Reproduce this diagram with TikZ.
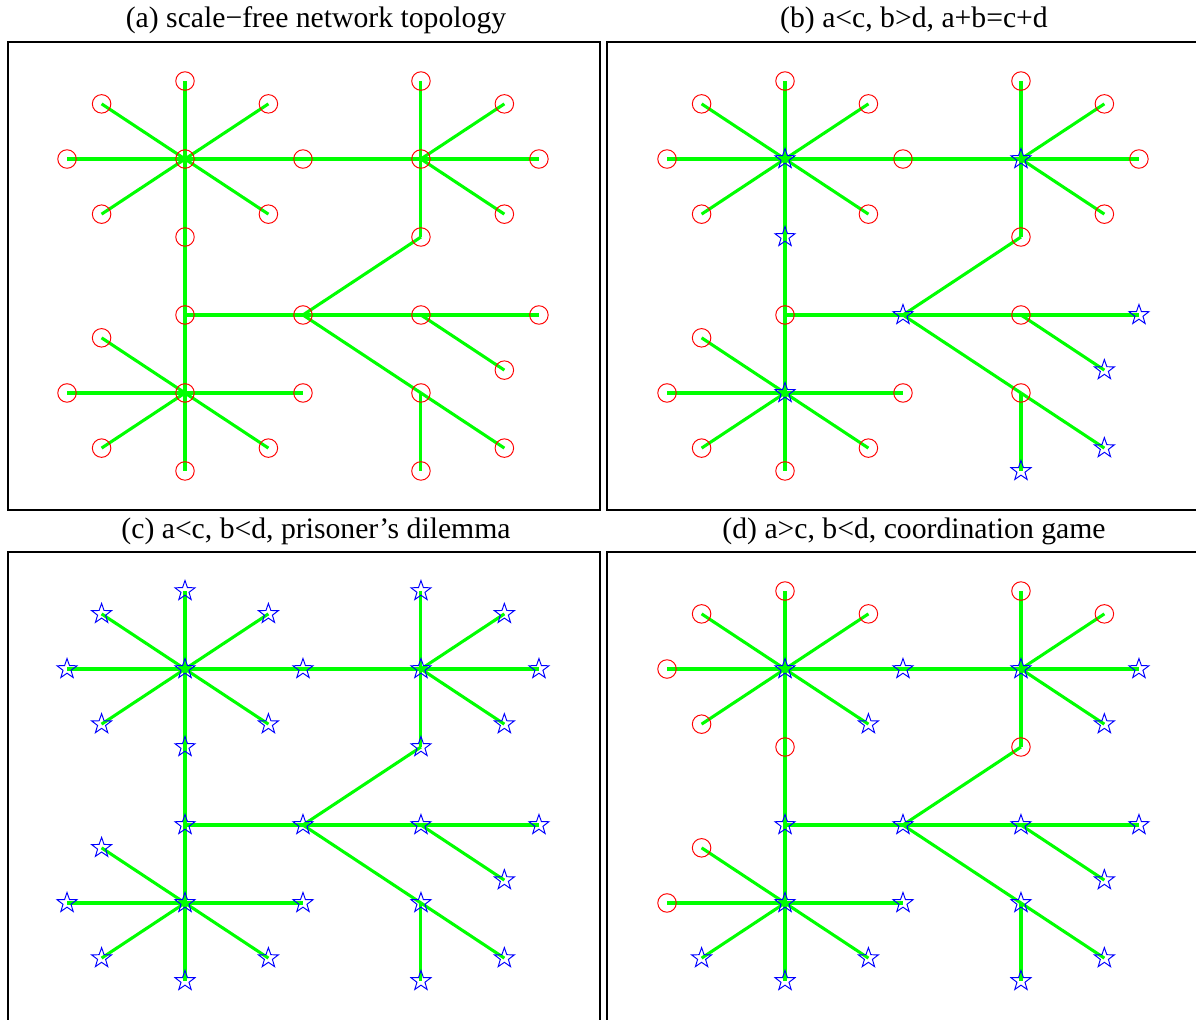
\documentclass[tikz,border=0pt]{standalone}
\usepackage{fontspec}
\setmainfont{Liberation Serif}
\usetikzlibrary{
  shapes.geometric,
  backgrounds
}
\definecolor{linkGreen}{RGB}{0,255,0}
\definecolor{circRed}{RGB}{255,0,0}
\definecolor{starBlue}{RGB}{0,0,255}
\tikzset{
  link/.style       = {draw=linkGreen, line width=1.75pt},
  circMark/.style   = {circle, draw=circRed, line width=0.55pt,
                       minimum size=0.37cm, inner sep=0pt},
  starMark/.style   = {star, star points=5, star point ratio=2.5,
                       draw=starBlue, line width=0.55pt,
                       minimum size=0.42cm, inner sep=0pt},
  panel/.style      = {draw=black, line width=0.85pt},
  panelTitle/.style = {anchor=base, inner sep=0pt,
                       font=\fontsize{16.9}{20}\selectfont}
}
% node positions (hub h1 at the origin)
\newcommand\netlayout{h1/0/0, h2/2/0, h3/1/-2, h4/0/-3,
  a1/0/1, a2/-0.707/0.707, a3/0.707/0.707, a4/-1/0, a5/1/0,
  a6/-0.707/-0.707, a7/0.707/-0.707, a8/0/-1,
  b1/2/1, b2/2.707/0.707, b3/3/0, b4/2.707/-0.707, b5/2/-1,
  c1/0/-2, c2/2/-2, c3/3/-2, c4/2.707/-2.707, c5/2/-3,
  c6/2.707/-3.707, c7/2/-4,
  d1/-0.707/-2.293, d2/-1/-3, d3/1/-3, d4/-0.707/-3.707,
  d5/0.707/-3.707, d6/0/-4}
\newcommand\netlinks{h1/a1, h1/a2, h1/a3, h1/a4, h1/a5, h1/a6, h1/a7, h1/a8,
  h2/a5, h2/b1, h2/b2, h2/b3, h2/b4, h2/b5,
  a8/c1, c1/h3, c1/h4, h3/b5, h3/c2, c2/c3, c2/c4, h3/c5, c5/c6, c5/c7,
  h4/d1, h4/d2, h4/d3, h4/d4, h4/d5, h4/d6}
% #1 prefix, #2 position of h1, #3 markers
\newcommand\netpanel[3]{%
  \begin{scope}[shift={#2}, x=2.36cm, y=1.56cm]
    \foreach \n/\px/\py in \netlayout
      \coordinate (#1-\n-pos) at (\px,\py);
    #3
    \begin{scope}[on background layer]
      \foreach \u/\v in \netlinks
        \draw[link] (#1-\u.center) -- (#1-\v.center);
    \end{scope}
  \end{scope}}

\begin{document}
\begin{tikzpicture}[x=0.02cm, y=-0.02cm]
\useasboundingbox (0,0) rectangle (1196,1019);

\draw[panel] (8,42) rectangle (600,510);
\draw[panel] (607,42) rectangle (1197,510);
\draw[panel] (8,552) rectangle (600,1021);
\draw[panel] (607,552) rectangle (1197,1021);

\node[panelTitle] (titleA) at (316,27) {(a) scale\textminus free network topology};
\node[panelTitle] (titleB) at (914,27) {(b) a<c, b>d, a+b=c+d};
\node[panelTitle] (titleC) at (316,538) {(c) a<c, b<d, prisoner’s dilemma};
\node[panelTitle] (titleD) at (914,538) {(d) a>c, b<d, coordination game};

\netpanel{a}{(185,159)}{%
  \foreach \n in {h1,h2,h3,h4,a1,a2,a3,a4,a5,a6,a7,a8,b1,b2,b3,b4,b5,
                  c1,c2,c3,c4,c5,c6,c7,d1,d2,d3,d4,d5,d6}
    \node[circMark] (a-\n) at (a-\n-pos) {};
}

\netpanel{b}{(785,159)}{%
  \foreach \n in {a1,a2,a3,a4,a5,a6,a7,b1,b2,b3,b4,b5,c1,c2,c5,
                  d1,d2,d3,d4,d5,d6}
    \node[circMark] (b-\n) at (b-\n-pos) {};
  \foreach \n in {h1,h2,h3,h4,a8,c3,c4,c6,c7}
    \node[starMark] (b-\n) at (b-\n-pos) {};
}

\netpanel{c}{(185,669)}{%
  \foreach \n in {h1,h2,h3,h4,a1,a2,a3,a4,a5,a6,a7,a8,b1,b2,b3,b4,b5,
                  c1,c2,c3,c4,c5,c6,c7,d1,d2,d3,d4,d5,d6}
    \node[starMark] (c-\n) at (c-\n-pos) {};
}

\netpanel{d}{(785,669)}{%
  \foreach \n in {a1,a2,a3,a4,a6,a8,b1,b2,b5,d1,d2}
    \node[circMark] (d-\n) at (d-\n-pos) {};
  \foreach \n in {h1,h2,h3,h4,a5,a7,b3,b4,c1,c2,c3,c4,c5,c6,c7,d3,d4,d5,d6}
    \node[starMark] (d-\n) at (d-\n-pos) {};
}
\end{tikzpicture}
\end{document}
